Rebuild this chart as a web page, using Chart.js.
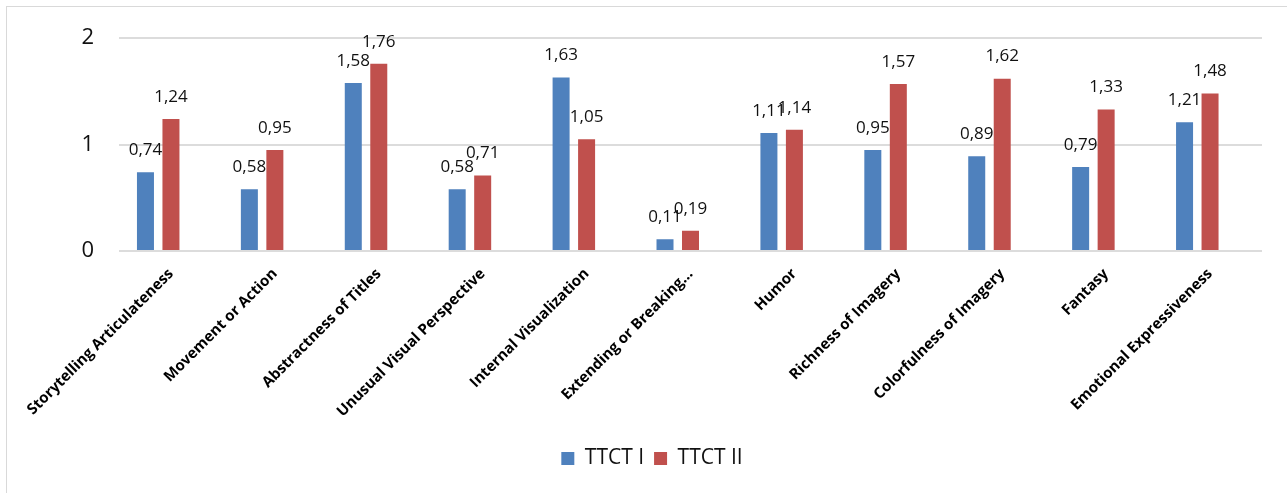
<!DOCTYPE html>
<html>
<head>
<meta charset="utf-8">
<script src="https://cdn.jsdelivr.net/npm/chart.js@4.4.0/dist/chart.umd.min.js"></script>
<style>
  html, body { margin: 0; padding: 0; background: #fff; }
  #wrap { position: absolute; left: 0; top: 0; width: 1287px; height: 493px; }
  #frame { position: absolute; left: 6px; top: 6px; width: 1400px; height: 600px; border: 1px solid #d9d9d9; box-sizing: border-box; }
</style>
</head>
<body>
<div id="frame"></div>
<div id="wrap"><canvas id="grafico"></canvas></div>
<script>
const categorias = [
  "Storytelling Articulateness",
  "Movement or Action",
  "Abstractness of Titles",
  "Unusual Visual Perspective",
  "Internal Visualization",
  "Extending or Breaking...",
  "Humor",
  "Richness of Imagery",
  "Colorfulness of Imagery",
  "Fantasy",
  "Emotional Expressiveness"
];
const ttct1 = [0.74, 0.58, 1.58, 0.58, 1.63, 0.11, 1.11, 0.95, 0.89, 0.79, 1.21];
const ttct2 = [1.24, 0.95, 1.76, 0.71, 1.05, 0.19, 1.14, 1.57, 1.62, 1.33, 1.48];
const vazio = [];
const yTicks = [0, 1, 2];

// escreve os valores acima das barras (com virgula)
const rotulosPlugin = {
  id: "rotulos",
  afterDatasetsDraw(chart) {
    const ctx = chart.ctx;
    ctx.save();
    ctx.font = "17px 'Open Sans'";
    ctx.fillStyle = "#111";
    ctx.textAlign = "center";
    ctx.textBaseline = "middle";
    chart.data.datasets.forEach(function (ds, i) {
      const meta = chart.getDatasetMeta(i);
      meta.data.forEach(function (bar, j) {
        const v = ds.data[j];
        if (v == null) return;
        ctx.fillText(v.toFixed(2).replace(".", ","), bar.x, bar.y - 22);
      });
    });
    ctx.restore();
  }
};

new Chart(document.getElementById("grafico"), {
  type: "bar",
  data: {
    labels: categorias,
    datasets: [
      { label: "TTCT I", data: ttct1, backgroundColor: "#4F81BD" },
      { label: "TTCT II", data: ttct2, backgroundColor: "#C0504D" },
      { label: "", data: vazio, backgroundColor: "rgba(0,0,0,0)" }
    ]
  },
  options: {
    responsive: true,
    maintainAspectRatio: false,
    animation: false,
    categoryPercentage: 0.736,
    barPercentage: 0.667,
    layout: { padding: { top: 33, right: 25, bottom: 14, left: 42 } },
    plugins: {
      tooltip: { enabled: false },
      legend: {
        position: "bottom",
        labels: {
          boxWidth: 13,
          boxHeight: 13,
          padding: 10,
          color: "#111",
          font: { family: "'Open Sans'", size: 21 },
          filter: function (item) { return item.text !== ""; }
        }
      }
    },
    scales: {
      x: {
        grid: { display: false },
        border: { display: false },
        ticks: {
          color: "#000",
          font: { family: "'Open Sans'", size: 15, weight: "bold" },
          minRotation: 45,
          maxRotation: 45,
          autoSkip: false,
          padding: 6
        },
        afterFit: function (scale) { scale.height = 187; }
      },
      y: {
        min: 0,
        max: 2,
        afterBuildTicks: function (scale) {
          scale.ticks = yTicks.map(function (v) { return { value: v }; });
        },
        grid: { color: "#dcdcdc", lineWidth: 2, drawTicks: false },
        border: { display: false },
        ticks: {
          color: "#111",
          font: { family: "'Open Sans'", size: 22 },
          padding: 25
        },
        afterFit: function (scale) { scale.width = 77; }
      }
    }
  },
  plugins: [rotulosPlugin]
});
</script>
</body>
</html>
